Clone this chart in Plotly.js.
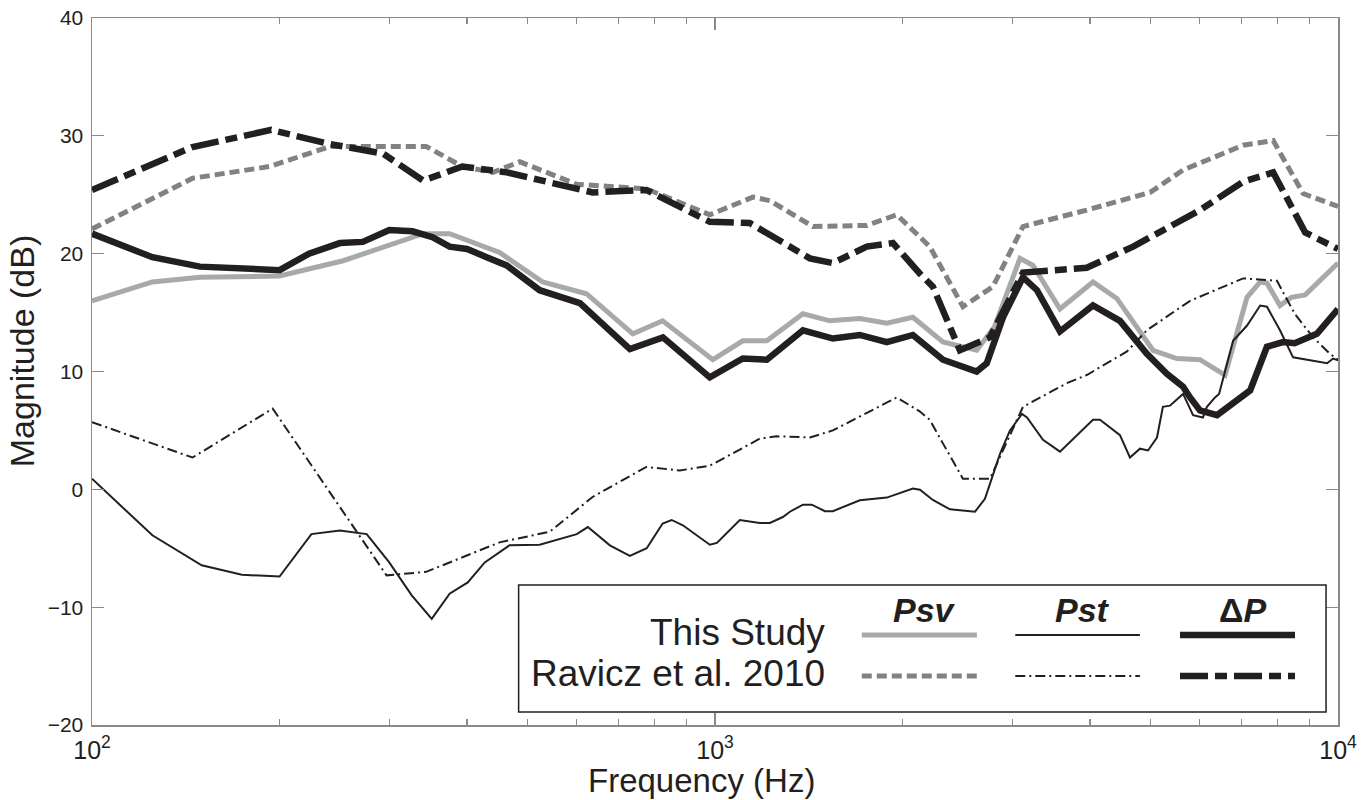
<!DOCTYPE html>
<html>
<head>
<meta charset="utf-8">
<script src="https://cdn.plot.ly/plotly-3.0.1.min.js"></script>
<style>html,body{margin:0;padding:0;background:#fff;}#chart{width:1372px;height:800px;}</style>
</head>
<body>
<div id="chart"></div>
<script>
// ---- Data ----
// This study: Psv
const psvFreq = [100,125,149,200,253,340,375,451,529,622,738,824,992,1108,1211,1384,1529,1708,1887,2078,2322,2630,2810,3087,3239,3579,4043,4416,5047,5513,6004,6587,7145,7500,7690,8070,8420,8859,10000];
const psvMag  = [16.0,17.6,18.0,18.1,19.4,21.7,21.7,20.1,17.6,16.6,13.2,14.3,11.0,12.6,12.6,14.9,14.3,14.5,14.1,14.6,12.5,11.8,13.8,19.6,19.0,15.3,17.6,16.2,11.8,11.1,11.0,9.7,16.3,17.6,17.5,15.6,16.3,16.5,19.2];

// This study: Pst
const pstFreq = [100,125,150,174,200,225,250,276,300,326,351,375,401,427,468,523,600,625,678,730,777,824,852,888,981,1007,1096,1180,1225,1285,1319,1384,1430,1501,1546,1628,1708,1887,2078,2133,2237,2383,2614,2712,2867,2975,3110,3168,3361,3579,3811,4043,4149,4467,4635,4810,4955,5122,5235,5374,5640,5853,6070,6160,6348,6443,6787,7145,7500,7690,8070,8470,9606,9820,10000];
const pstMag  = [0.9,-3.9,-6.45,-7.25,-7.4,-3.8,-3.5,-3.8,-6.2,-9.0,-11.0,-8.85,-7.9,-6.2,-4.75,-4.7,-3.8,-3.2,-4.75,-5.65,-5.0,-2.9,-2.6,-3.05,-4.7,-4.55,-2.6,-2.85,-2.85,-2.35,-1.9,-1.3,-1.3,-1.85,-1.85,-1.35,-0.93,-0.7,0.06,-0.03,-0.9,-1.7,-1.9,-0.8,3.0,5.0,6.4,6.1,4.2,3.2,4.6,5.9,5.9,4.6,2.7,3.45,3.3,4.4,7.0,7.1,8.1,6.3,6.1,7.0,7.8,8.1,12.6,13.9,15.6,15.5,13.5,11.2,10.7,11.1,10.95];

// This study: ΔP
const dpFreq = [100,125,149,200,223,250,272,300,327,352,375,400,430,463,523,607,730,825,981,1108,1211,1384,1546,1708,1887,2078,2322,2630,2730,2899,3121,3287,3579,4043,4467,4934,5313,5640,5788,6004,6395,6787,7228,7690,8160,8520,9250,10000];
const dpMag  = [21.7,19.7,18.9,18.6,20.0,20.9,21.0,22.0,21.9,21.4,20.6,20.4,19.7,19.0,16.9,15.8,11.9,12.9,9.5,11.1,11.0,13.5,12.8,13.1,12.5,13.1,11.0,10.0,10.7,14.6,18.0,16.9,13.4,15.6,14.3,11.5,9.8,8.7,7.8,6.7,6.3,7.3,8.4,12.1,12.5,12.4,13.2,15.3];

// Ravicz et al. 2010: Psv
const rPsvFreq = [100,145,193,241,344,393,440,486,599,776,981,1150,1225,1436,1752,1958,2212,2500,2793,3121,3951,4993,5640,7042,7870,8790,10000];
const rPsvMag  = [22.1,26.4,27.4,29.1,29.1,27.4,26.9,27.8,25.9,25.5,23.3,24.8,24.5,22.3,22.4,23.3,20.6,15.5,17.2,22.3,23.7,25.2,27.1,29.2,29.6,25.1,24.0];

// Ravicz et al. 2010: Pst
const rPstFreq = [100,145,195,297,344,451,543,636,776,878,981,1180,1256,1420,1546,1958,2133,2212,2322,2500,2763,3121,3668,3951,4585,4934,5788,7042,7980,8520,9120,9710,10000];
const rPstMag  = [5.7,2.7,6.85,-7.3,-7.0,-4.5,-3.6,-0.65,1.9,1.6,2.0,4.3,4.5,4.4,5.0,7.8,6.6,5.9,3.9,0.9,0.9,7.0,9.0,9.7,11.7,13.5,16.0,17.9,17.7,14.9,12.9,11.5,11.0];

// Ravicz et al. 2010: ΔP
const rDpFreq = [100,145,194,241,293,340,393,463,636,776,981,1137,1420,1546,1752,1930,2133,2237,2472,2763,3121,3951,4690,6004,7042,7870,8859,10000];
const rDpMag  = [25.4,29.05,30.5,29.3,28.5,26.2,27.4,26.9,25.2,25.4,22.7,22.6,19.6,19.2,20.6,20.9,18.3,17.2,11.8,12.9,18.4,18.8,20.6,23.7,26.1,26.9,21.8,20.4];

// Tick labels
const yTickVals = [-20,-10,0,10,20,30,40];
const xTickVals = [100,1000,10000];
const xTickText = ['10<sup>2</sup>','10<sup>3</sup>','10<sup>4</sup>'];
const xMinorVals = [200,300,400,500,600,700,800,900,2000,3000,4000,5000,6000,7000,8000,9000];

// Legend text
const legendRows = ['This Study','Ravicz et al. 2010'];
const legendCols = ['<b><i>Psv</i></b>','<b><i>Pst</i></b>','<b>Δ<i>P</i></b>'];

// ---- Styles ----
const LIGHT = '#a7a9ac', MID = '#808285', BLACK = '#231f20';
const sPsv  = {color: LIGHT, width: 5};
const sRPsv = {color: MID, width: 5, dash: '10px,5px'};
const sPst  = {color: BLACK, width: 2};
const sRPst = {color: BLACK, width: 2, dash: '10px,4px,2px,4px'};
const sDp   = {color: BLACK, width: 6.5};
const sRDp  = {color: BLACK, width: 6.5, dash: '28px,7px,12px,7px'};

const traces = [
  {x: psvFreq, y: psvMag, line: sPsv},
  {x: rPsvFreq, y: rPsvMag, line: sRPsv},
  {x: rPstFreq, y: rPstMag, line: sRPst},
  {x: pstFreq, y: pstMag, line: sPst},
  {x: rDpFreq, y: rDpMag, line: sRDp},
  {x: dpFreq, y: dpMag, line: sDp}
].map(t => Object.assign({type: 'scatter', mode: 'lines', hoverinfo: 'skip', showlegend: false}, t));

// ---- Custom legend (paper coordinates) ----
const lx0 = 0.3424, lx1 = 0.9904, ly0 = 0.0184, ly1 = 0.198;
const colX = [[0.6178,0.7102],[0.7410,0.8410],[0.8732,0.9655]];
const rowY = [0.1273, 0.0693];
const legendStyles = [[sPsv, sPst, sDp],[sRPsv, sRPst, sRDp]];

const shapes = [{type:'rect', xref:'paper', yref:'paper', x0:lx0, x1:lx1, y0:ly0, y1:ly1,
  line:{color:'#231f20', width:1.5}, fillcolor:'#ffffff', layer:'above'}];
legendStyles.forEach((row, r) => row.forEach((st, c) => {
  shapes.push({type:'line', xref:'paper', yref:'paper', x0:colX[c][0], x1:colX[c][1], y0:rowY[r], y1:rowY[r],
    line: Object.assign({}, st), layer:'above'});
}));

const font = 'Liberation Sans, Arial, Helvetica, sans-serif';
const annotations = [];
legendRows.forEach((txt, r) => annotations.push({xref:'paper', yref:'paper', x:0.5902, y:rowY[r]+0.004, text:txt,
  showarrow:false, xanchor:'right', yanchor:'middle', font:{family:font, size:37, color:'#231f20'}}));
legendCols.forEach((txt, c) => annotations.push({xref:'paper', yref:'paper', x:(colX[c][0]+colX[c][1])/2+0.004, y:0.162, text:txt,
  showarrow:false, xanchor:'center', yanchor:'middle', font:{family:font, size:34, color:'#231f20'}}));
annotations.push({xref:'paper', yref:'paper', x:0.4894, y:-0.079, text:'Frequency (Hz)', showarrow:false,
  xanchor:'center', yanchor:'middle', font:{family:font, size:33, color:'#231f20'}});
annotations.push({xref:'paper', yref:'paper', x:-0.056, y:0.529, text:'Magnitude (dB)', showarrow:false, textangle:-90,
  xanchor:'center', yanchor:'middle', font:{family:font, size:34, color:'#231f20'}});

const axisCommon = {showgrid:false, zeroline:false, showline:true, linecolor:'#8a8a8a', linewidth:1.5,
  mirror:'ticks', ticks:'inside', tickcolor:'#8a8a8a', tickwidth:1.2,
  tickfont:{family:font, size:21, color:'#231f20'}};

const layout = {
  width:1372, height:800,
  margin:{l:92, r:34, t:18, b:75},
  paper_bgcolor:'#ffffff', plot_bgcolor:'#ffffff',
  showlegend:false,
  xaxis: Object.assign({}, axisCommon, {type:'log', range:[2,4], tickmode:'array', tickvals:xTickVals, ticktext:xTickText,
    ticklen:12, ticklabelstandoff:2, tickfont:{family:font, size:25, color:'#231f20'},
    minor:{tickmode:'array', tickvals:xMinorVals, ticks:'inside', ticklen:6, tickcolor:'#8a8a8a', tickwidth:1.2}}),
  yaxis: Object.assign({}, axisCommon, {range:[-20,40], tickmode:'array', tickvals:yTickVals, ticklen:12, ticklabelstandoff:3}),
  shapes: shapes,
  annotations: annotations
};

Plotly.newPlot('chart', traces, layout, {staticPlot:true, displayModeBar:false});
</script>
</body>
</html>
